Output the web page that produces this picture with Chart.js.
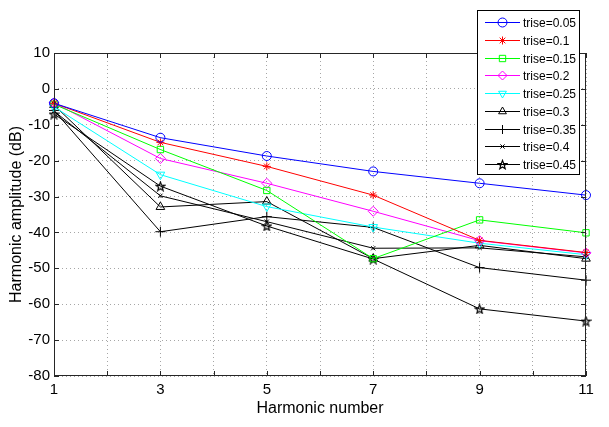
<!DOCTYPE html>
<html>
<head>
<meta charset="utf-8">
<script src="https://cdn.jsdelivr.net/npm/chart.js@4/dist/chart.umd.min.js"></script>
<style>
html,body{margin:0;padding:0;background:#fff;}
#wrap{width:609px;height:427px;position:relative;}
</style>
</head>
<body>
<div id="wrap"><canvas id="c" width="609" height="427"></canvas></div>
<script>
const harmonics = [1, 3, 5, 7, 9, 11];
const seriesLabels = ['trise=0.05','trise=0.1','trise=0.15','trise=0.2','trise=0.25','trise=0.3','trise=0.35','trise=0.4','trise=0.45'];
const s005 = [-4.0, -13.6, -18.7, -23.0, -26.3, -29.6];
const s010 = [-4.0, -14.9, -21.6, -29.6, -42.2, -45.6];
const s015 = [-4.3, -16.9, -28.3, -47.3, -36.5, -40.1];
const s020 = [-3.9, -19.4, -26.3, -34.1, -42.3, -45.7];
const s025 = [-5.0, -23.9, -32.8, -38.5, -43.0, -46.2];
const s030 = [-4.5, -32.9, -31.4, -47.3, -43.6, -47.3];
const s035 = [-6.0, -39.8, -35.6, -38.6, -49.8, -53.3];
const s040 = [-6.2, -29.8, -37.0, -44.4, -44.3, -46.8];
const s045 = [-7.0, -27.1, -38.2, -47.4, -61.3, -64.7];
const yTicks = [10, 0, -10, -20, -30, -40, -50, -60, -70, -80];
const xTickLabels = [1, 3, 5, 7, 9, 11];

// pentagram marker
function pentagram(color){
  const cv = document.createElement('canvas');
  cv.width = 11; cv.height = 11;
  const g = cv.getContext('2d');
  g.strokeStyle = color; g.lineWidth = 1.2;
  g.beginPath();
  const cx = 5.5, cy = 6, R = 4.6, r = 1.9;
  for (let i = 0; i < 10; i++) {
    const a = -Math.PI/2 + i*Math.PI/5;
    const rr = i % 2 === 0 ? R : r;
    const px = cx + rr*Math.cos(a), py = cy + rr*Math.sin(a);
    if (i === 0) g.moveTo(px, py); else g.lineTo(px, py);
  }
  g.closePath(); g.stroke();
  return cv;
}
const starImg = pentagram('#000');

const allSeries = [s005, s010, s015, s020, s025, s030, s035, s040, s045];
const colors = ['#0000ff','#ff0000','#00ff00','#ff00ff','#00ffff','#000000','#000000','#000000','#000000'];
const styles = ['circle','star','rect','rectRot','triangle','triangle','cross','crossRot', starImg];
const rotations = [0,0,0,0,180,0,0,0,0];
const radii = [4.5,4,4.5,5,5,5,5,3,5];

const datasets = allSeries.map((vals, i) => ({
  label: seriesLabels[i],
  data: harmonics.map((h, j) => ({x: h, y: vals[j]})),
  borderColor: colors[i],
  backgroundColor: 'rgba(0,0,0,0)',
  pointBorderColor: colors[i],
  pointBackgroundColor: 'rgba(0,0,0,0)',
  pointStyle: styles[i],
  pointRotation: rotations[i],
  pointRadius: radii[i],
  pointBorderWidth: 1,
  borderWidth: 1,
  tension: 0,
  clip: false
}));

const L = 54, R = 586, T = 53, B = 376;

const framePlugin = {
  id: 'frame',
  afterDraw(chart) {
    const ctx = chart.ctx;
    const a = chart.chartArea;
    const xs = chart.scales.x, ys = chart.scales.y;
    ctx.save();
    ctx.strokeStyle = '#262626';
    ctx.lineWidth = 1;
    ctx.setLineDash([]);
    ctx.strokeRect(a.left + 0.5, a.top + 0.5, a.right - a.left - 1, a.bottom - a.top - 1);
    ctx.beginPath();
    for (let v = 1; v <= 11; v++) {
      const px = Math.round(xs.getPixelForValue(v)) + 0.5;
      ctx.moveTo(px, a.bottom); ctx.lineTo(px, a.bottom - 5);
      ctx.moveTo(px, a.top); ctx.lineTo(px, a.top + 5);
    }
    yTicks.forEach(v => {
      const py = Math.round(ys.getPixelForValue(v)) + 0.5;
      ctx.moveTo(a.left, py); ctx.lineTo(a.left + 5, py);
      ctx.moveTo(a.right, py); ctx.lineTo(a.right - 5, py);
    });
    ctx.stroke();

    // legend box
    const bx = 477, by = 10, bw = 102, bh = 164;
    ctx.fillStyle = '#fff';
    ctx.fillRect(bx, by, bw, bh);
    ctx.strokeStyle = '#000';
    ctx.strokeRect(bx + 0.5, by + 0.5, bw, bh);
    ctx.font = '12px "Liberation Sans", Arial, sans-serif';
    ctx.textBaseline = 'middle';
    ctx.textAlign = 'left';
    chart.data.datasets.forEach((ds, i) => {
      const y = Math.round(22 + i * 17.75) + 0.5;
      ctx.strokeStyle = ds.borderColor;
      ctx.lineWidth = 1;
      ctx.beginPath(); ctx.moveTo(485, y); ctx.lineTo(520, y); ctx.stroke();
      if (typeof ds.pointStyle !== 'string') {
        ctx.drawImage(ds.pointStyle, 502.5 - ds.pointStyle.width / 2, y - ds.pointStyle.height / 2);
      } else if (Chart.helpers && Chart.helpers.drawPoint) {
        ctx.fillStyle = 'rgba(0,0,0,0)';
        Chart.helpers.drawPoint(ctx, {pointStyle: ds.pointStyle, rotation: ds.pointRotation, radius: Math.min(ds.pointRadius, 4.5), borderWidth: 1}, 502.5, y);
      }
      ctx.fillStyle = '#000';
      ctx.fillText(ds.label, 523, y + 1);
    });
    ctx.restore();
  }
};

new Chart(document.getElementById('c'), {
  type: 'line',
  data: { datasets },
  options: {
    responsive: false,
    animation: false,
    layout: { padding: { left: 0, top: T, right: 609 - R, bottom: 0 } },
    plugins: { legend: { display: false }, tooltip: { enabled: false } },
    scales: {
      x: {
        type: 'linear', min: 1, max: 11,
        afterFit(s) { s.height = 427 - B; },
        ticks: {
          stepSize: 1, padding: 5, color: '#000',
          font: { size: 15, family: '"Liberation Sans", Arial, sans-serif' },
          maxRotation: 0, autoSkip: false,
          callback: v => xTickLabels.includes(v) ? String(v) : ''
        },
        grid: { color: '#a6a6a6', lineWidth: 1, drawTicks: false },
        border: { display: false, dash: [1, 3] },
        title: { display: true, text: 'Harmonic number', color: '#000',
          font: { size: 16, family: '"Liberation Sans", Arial, sans-serif' },
          padding: { top: 0, bottom: 9 } }
      },
      y: {
        type: 'linear', min: -80, max: 10,
        afterFit(s) { s.width = L; },
        afterBuildTicks(s) { s.ticks = yTicks.slice().reverse().map(v => ({ value: v })); },
        ticks: {
          stepSize: 10, padding: 4, color: '#000',
          font: { size: 15, family: '"Liberation Sans", Arial, sans-serif' }
        },
        grid: { color: '#a6a6a6', lineWidth: 1, drawTicks: false },
        border: { display: false, dash: [1, 3] },
        title: { display: true, text: 'Harmonic amplitude (dB)', color: '#000',
          font: { size: 16, family: '"Liberation Sans", Arial, sans-serif' },
          padding: { top: 7, bottom: 0 } }
      }
    }
  },
  plugins: [framePlugin]
});
</script>
</body>
</html>
